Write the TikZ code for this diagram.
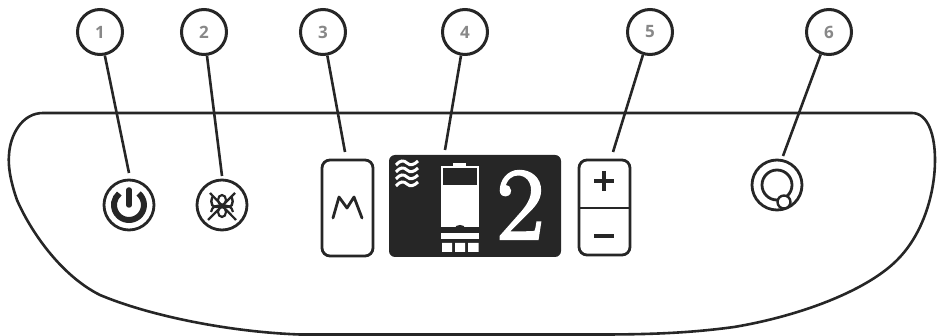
\documentclass[tikz,border=0pt]{standalone}
\usepackage{fontspec}
\setsansfont{Open Sans}
\newfontfamily\twofont[FakeBold=3]{Latin Modern Roman}
\definecolor{ink}{HTML}{262626}
\tikzset{
  callout/.style={circle,draw=ink,line width=3pt,minimum size=45pt,inner sep=0pt,fill=white,font=\sffamily\fontsize{17}{17}\selectfont\bfseries,text=ink!55},
  leader/.style={draw=ink,line width=2.6pt},
  outline/.style={draw=ink,line width=2.8pt,rounded corners=8pt},
  icon/.style={circle,draw=ink,line width=2.8pt,minimum size=50pt,inner sep=0pt},
}
\begin{document}
\begin{tikzpicture}[x=1pt,y=-1pt]
\useasboundingbox (0,0) rectangle (937,336);
% panel
\draw[draw=ink,line width=2.6pt] (43,113) -- (912,113)
  .. controls (928,113) and (935,135) .. (935,160)
  .. controls (935,190) and (925,230) .. (900,257)
  .. controls (870,290) and (800,316) .. (734,327)
  .. controls (690,333) and (650,334.5) .. (600,334.5)
  -- (300,334.5)
  .. controls (230,332) and (150,316) .. (100,295)
  .. controls (60,275) and (30,230) .. (17,200)
  .. controls (10,180) and (8,165) .. (9,155)
  .. controls (10,135) and (22,113) .. (43,113) -- cycle;
% callouts
\node[callout] (c1) at (100,32) {1};
\node[callout] (c2) at (204,32) {2};
\node[callout] (c3) at (323,32) {3};
\node[callout] (c4) at (465,32) {4};
\node[callout] (c5) at (650,32) {5};
\node[callout] (c6) at (829,32) {6};
% controls
\node[icon] (i1) at (129,205) {};
\node[icon] (i2) at (222,205) {};
\node[outline,minimum width=51pt,minimum height=96pt,inner sep=0pt] (m) at (347.5,208) {};
\node[fill=ink,rounded corners=6pt,minimum width=172pt,minimum height=102pt,inner sep=0pt] (d) at (475,206) {};
\node[outline,minimum width=51pt,minimum height=95pt,inner sep=0pt] (pm) at (604.5,207.5) {};
\node[icon] (i6) at (777,185) {};
\coordinate (t3) at (345,152);
\coordinate (t4) at (445,150);
\coordinate (t5) at (613,152);
% leaders
\draw[leader] (c1) -- (129,173) coordinate (t1);
\draw[leader] (c2) -- (222,176) coordinate (t2);
\draw[leader] (c3) -- (t3);
\draw[leader] (c4) -- (t4);
\draw[leader] (c5) -- (t5);
\draw[leader] (c6) -- (783,156) coordinate (t6);
% power icon
\draw[ink,line width=6pt] (138.6,193.5) arc[start angle=-50,end angle=230,radius=15];
\draw[ink,line width=5.5pt,line cap=round] (129,190) -- (129,205);
% bug icon
\draw[ink,line width=2.2pt] (210,193) -- (236,220) (235,193) -- (208,220);
\draw[ink,line width=2.2pt] (222,200) ellipse (4 and 5) (222,212) ellipse (4 and 5);
\draw[ink,line width=2.4pt] (213,196) .. controls (209,204) and (212,209) .. (222,206) .. controls (232,209) and (235,204) .. (231,196);
\draw[ink,line width=2.2pt] (211,212) .. controls (212,206) and (217,205) .. (222,206) .. controls (227,205) and (232,206) .. (233,212);
% M
\draw[ink,line width=2.8pt,line join=round,line cap=round] (333,218) -- (339,197) -- (347,208) -- (354,197) -- (362,218);
% display
\begin{scope}[white,line width=3pt]
\foreach \yy in {163,170,177,184}{
  \draw (396,\yy+2) .. controls (400,\yy-3) and (404,\yy-3) .. (407,\yy) .. controls (410,\yy+3) and (414,\yy+2) .. (418,\yy-2);
}
\end{scope}
\fill[white] (453,163) rectangle (466,168);
\draw[white,line width=2pt] (442,167) rectangle (478,186);
\fill[white] (441,186) rectangle (479,227);
\fill[ink] (460,228) ellipse (5 and 3);
\fill[white] (441,233) rectangle (479,239);
\fill[white] (442,243) rectangle (452,252) (455,243) rectangle (465,252) (468,243) rectangle (478.5,252);
\node[text=white,font=\twofont\fontsize{102}{102}\selectfont,inner sep=0pt] (two) at (520.5,205) {2};
% plus minus
\draw[ink,line width=2.6pt] (579,208) -- (630,208);
\draw[ink,line width=3.4pt] (594,181) -- (614,181) (604,171) -- (604,191);
\draw[ink,line width=3.8pt] (594,236) -- (614,236);
% knob
\draw[ink,line width=2.8pt] (777,185) circle (15);
\draw[fill=white,draw=ink,line width=2.4pt] (784,202) circle (6.5);
\end{tikzpicture}
\end{document}
